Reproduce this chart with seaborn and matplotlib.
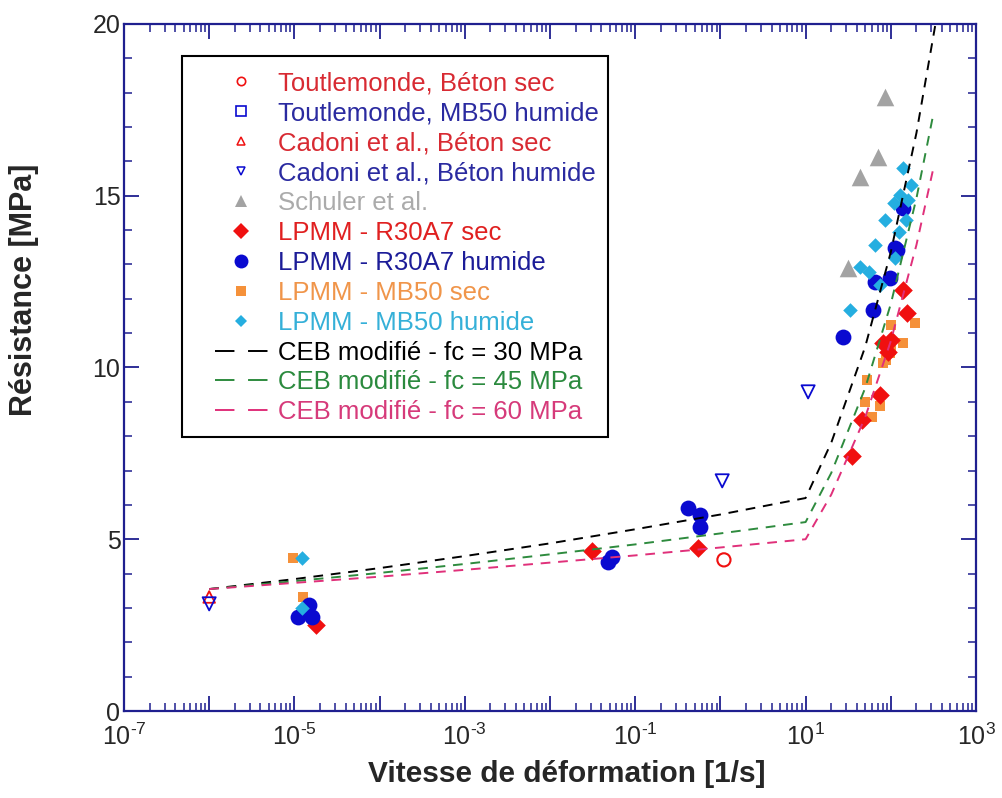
import numpy as np
import seaborn as sns
import matplotlib
matplotlib.use("Agg")
import matplotlib.pyplot as plt
from matplotlib.ticker import LogLocator, MultipleLocator, FuncFormatter, NullFormatter
from matplotlib.lines import Line2D
from matplotlib.patches import Rectangle

# values
toutle_sec_x = [1.1]
toutle_sec_y = [4.40]
toutle_mb50_x = []
toutle_mb50_y = []
cadoni_sec_x = [1.0e-6]
cadoni_sec_y = [3.32]
cadoni_hum_x = [1.0e-6, 1.05, 10.7]
cadoni_hum_y = [3.12, 6.70, 9.29]
schuler_x = [31.5, 43.5, 70.8, 85.5]
schuler_y = [12.9, 15.55, 16.13, 17.87]
r30_sec_x = [1.8e-5, 0.031, 0.55, 35, 46, 75, 81, 93, 100, 139, 155]
r30_sec_y = [2.5, 4.66, 4.75, 7.42, 8.47, 9.2, 10.7, 10.45, 10.8, 12.26, 11.6]
r30_hum_x = [1.1e-5, 1.4e-5, 1.6e-5, 1.5e-5, 0.048, 0.053, 0.42, 0.57, 0.57,
             27.5, 62, 66, 97, 112, 118, 139]
r30_hum_y = [2.75, 3.0, 2.75, 3.1, 4.34, 4.48, 5.91, 5.70, 5.36,
             10.89, 11.67, 12.49, 12.6, 13.48, 13.42, 14.64]
mb50_sec_x = [9.6e-6, 1.26e-5, 52, 49.7, 60.5, 74.7, 101, 190, 139, 100, 97, 88, 81]
mb50_sec_y = [4.45, 3.32, 9.64, 9.0, 8.56, 8.88, 11.24, 11.3, 10.71, 10.5, 10.42, 10.22, 10.13]
mb50_hum_x = [1.23e-5, 1.23e-5, 33, 43.6, 55, 74.7, 66, 85.7, 124, 108, 128, 160, 150, 173, 138, 112]
mb50_hum_y = [4.45, 3.0, 11.67, 12.93, 12.78, 12.4, 13.57, 14.3, 13.94, 14.79, 15.02, 14.88,
              14.3, 15.31, 15.8, 13.2]

ceb30_x = [1e-6, 1e-5, 1e-4, 1e-3, 1e-2, 1e-1, 1, 10, 20, 50, 100, 200, 350]
ceb30_y = [3.55, 3.84, 4.16, 4.51, 4.88, 5.29, 5.72, 6.20, 7.81, 10.60, 13.36, 16.83, 20.28]
ceb45_x = [1e-6, 1e-5, 1e-4, 1e-3, 1e-2, 1e-1, 1, 10, 20, 50, 100, 200, 310]
ceb45_y = [3.55, 3.78, 4.02, 4.28, 4.56, 4.85, 5.17, 5.50, 6.93, 9.40, 11.85, 14.93, 17.28]
ceb60_x = [1e-6, 1e-5, 1e-4, 1e-3, 1e-2, 1e-1, 1, 10, 20, 50, 100, 200, 310]
ceb60_y = [3.55, 3.73, 3.91, 4.11, 4.32, 4.53, 4.76, 5.00, 6.30, 8.55, 10.77, 13.57, 15.71]

NAVY = "#1f1f8f"
RED = "#f01010"
BLUE = "#0a0ad0"
ORANGE = "#f5913a"
CYAN = "#25aee0"
GREY = "#a3a3a3"
GREEN = "#2e8b3e"
PINK = "#e0307a"

sns.set_style("ticks")
plt.rcParams["font.family"] = ["Liberation Sans", "DejaVu Sans"]
plt.rcParams["mathtext.fontset"] = "custom"
plt.rcParams["mathtext.rm"] = "Liberation Sans"
plt.rcParams["mathtext.default"] = "regular"
plt.rcParams["axes.unicode_minus"] = False

fig = plt.figure(figsize=(10.03, 7.98), dpi=100)
ax = fig.add_axes([0.1236, 0.109, 0.8495, 0.861])

dash = (0, (5, 4))
sns.lineplot(x=ceb30_x, y=ceb30_y, ax=ax, color="black", lw=1.4, linestyle=dash, sort=False)
sns.lineplot(x=ceb45_x, y=ceb45_y, ax=ax, color=GREEN, lw=1.4, linestyle=dash, sort=False)
sns.lineplot(x=ceb60_x, y=ceb60_y, ax=ax, color=PINK, lw=1.4, linestyle=dash, sort=False)

sns.scatterplot(x=toutle_sec_x, y=toutle_sec_y, ax=ax, marker="o", s=90,
                facecolor="none", edgecolor=RED, linewidth=1.5)
sns.scatterplot(x=cadoni_sec_x, y=cadoni_sec_y, ax=ax, marker="^", s=70,
                facecolor="none", edgecolor=RED, linewidth=1.3)
sns.scatterplot(x=cadoni_hum_x, y=cadoni_hum_y, ax=ax, marker="v", s=90,
                facecolor="none", edgecolor=BLUE, linewidth=1.3)
sns.scatterplot(x=schuler_x, y=schuler_y, ax=ax, marker="^", s=160, color=GREY, linewidth=0)
sns.scatterplot(x=mb50_sec_x, y=mb50_sec_y, ax=ax, marker="s", s=60, color=ORANGE, linewidth=0)
sns.scatterplot(x=r30_sec_x, y=r30_sec_y, ax=ax, marker="D", s=90, color=RED, linewidth=0)
sns.scatterplot(x=r30_hum_x, y=r30_hum_y, ax=ax, marker="o", s=130, color=BLUE, linewidth=0)
sns.scatterplot(x=mb50_hum_x, y=mb50_hum_y, ax=ax, marker="D", s=55, color=CYAN, linewidth=0)

ax.set_xscale("log")
ax.set_xlim(1e-7, 1e3)
ax.set_ylim(0, 20)

ax.xaxis.set_major_locator(LogLocator(base=10, numticks=20))
ax.xaxis.set_minor_locator(LogLocator(base=10, subs=np.arange(2, 10), numticks=200))
ax.xaxis.set_minor_formatter(NullFormatter())


def fmt_exp(v, pos):
    e = int(round(np.log10(v)))
    if e % 2 == 0:
        return ""
    if e < 0:
        return "$10^{\u2010%d}$" % (-e)
    return r"$10^{%d}$" % e


ax.xaxis.set_major_formatter(FuncFormatter(fmt_exp))
ax.yaxis.set_major_locator(MultipleLocator(5))
ax.yaxis.set_minor_locator(MultipleLocator(1))

for side in ax.spines.values():
    side.set_color(NAVY)
    side.set_linewidth(1.6)
ax.tick_params(which="both", direction="in", top=True, right=True, color=NAVY)
ax.tick_params(which="major", length=11, width=1.3, labelsize=18)
ax.tick_params(axis="x", which="major", pad=9)
ax.tick_params(axis="y", which="major", pad=2.5)
ax.tick_params(which="minor", length=5.5, width=1.1)

ax.set_xlabel("Vitesse de déformation [1/s]", fontsize=21.5, fontweight="bold")
ax.xaxis.set_label_coords(0.52, -0.072)
ax.set_ylabel("Résistance [MPa]", fontsize=22, fontweight="bold")
ax.yaxis.set_label_coords(-0.100, 0.613)

ldash = (0, (10, 7))
entries = [
    ("Toutlemonde, Béton sec", dict(marker="o", mfc="none", mec=RED, ms=6, mew=1.2), "#d82a32"),
    ("Toutlemonde, MB50 humide", dict(marker="s", mfc="none", mec=BLUE, ms=6.5, mew=1.2), "#2a2aa0"),
    ("Cadoni et al., Béton sec", dict(marker="^", mfc="none", mec=RED, ms=6, mew=1.1), "#d82a32"),
    ("Cadoni et al., Béton humide", dict(marker="v", mfc="none", mec=BLUE, ms=6, mew=1.1), "#2a2aa0"),
    ("Schuler et al.", dict(marker="^", color=GREY, ms=9, mew=0), "#ababab"),
    ("LPMM - R30A7 sec", dict(marker="D", color=RED, ms=8, mew=0), "#e02020"),
    ("LPMM - R30A7 humide", dict(marker="o", color=BLUE, ms=10, mew=0), "#1c1c98"),
    ("LPMM - MB50 sec", dict(marker="s", color=ORANGE, ms=6.5, mew=0), "#f0954a"),
    ("LPMM - MB50 humide", dict(marker="D", color=CYAN, ms=6.5, mew=0), "#35b0d8"),
    ("CEB modifié - fc = 30 MPa", dict(color="black", lw=1.4, linestyle=ldash), "black"),
    ("CEB modifié - fc = 45 MPa", dict(color=GREEN, lw=1.4, linestyle=ldash), "#2b8a3e"),
    ("CEB modifié - fc = 60 MPa", dict(color=PINK, lw=1.4, linestyle=ldash), "#d63a7a"),
]
handles = []
for lab, kw, tc in entries:
    if "marker" in kw:
        h = Line2D([], [], linestyle="none", **kw)
    else:
        h = Line2D([], [], **kw)
    handles.append(h)

# legend box drawn separately so its margins can match the reference
box = Rectangle((0.0681, 0.3988), 0.568 - 0.0681, 0.9534 - 0.3988, transform=ax.transAxes,
                facecolor="white", edgecolor="black", linewidth=1.5, zorder=4.9)
ax.add_patch(box)

leg = ax.legend(handles, [e[0] for e in entries], loc="upper left",
                bbox_to_anchor=(0.1068, 0.931), fontsize=18.5, frameon=False,
                labelspacing=0.23, handlelength=2.06, handletextpad=0.4,
                borderpad=0, borderaxespad=0)
leg.set_zorder(5)
for txt, (_, _, tc) in zip(leg.get_texts(), entries):
    txt.set_color(tc)

fig.savefig("out.png", dpi=100)
